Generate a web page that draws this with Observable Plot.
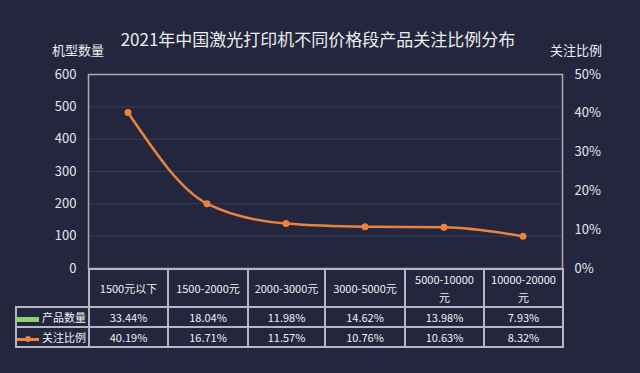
<!DOCTYPE html>
<html>
<head>
<meta charset="utf-8">
<script src="https://cdn.jsdelivr.net/npm/d3@7"></script>
<script src="https://cdn.jsdelivr.net/npm/@observablehq/plot@0.6"></script>
<style>
  html, body { margin: 0; padding: 0; background: #24263d; }
  #wrap { position: relative; width: 640px; height: 373px; background: #24263d; overflow: hidden;
          font-family: "Noto Sans CJK SC", "Noto Sans", sans-serif; color: #ececf0; }
  #title { position: absolute; left: 0; width: 636px; top: 27px; text-align: center; font-size: 17px; line-height: 24px; }
  .ylab { position: absolute; top: 41px; font-size: 13px; line-height: 18px; }
  #chart { position: absolute; left: 0; top: 0; }
  #tbl { position: absolute; left: 15px; top: 268px; border-collapse: collapse; table-layout: fixed;
         font-size: 11px; color: #f0f0f4; }
  #tbl td { border: 2px solid #b4b7c4; text-align: center; padding: 0 5px; line-height: 18px; }
  #tbl tr.head td { height: 35px; }
  #tbl tr.row td { height: 17px; }
  #tbl td.corner { border-top: none; border-left: none; border-bottom-width: 2px; }
  #tbl td.leg { text-align: right; padding: 0 2px 0 0; white-space: nowrap; }
  .sw { display: inline-block; vertical-align: middle; margin-right: 3px; position: relative; }
</style>
</head>
<body>
<div id="wrap">
  <div id="title"></div>
  <div class="ylab" style="left:52px;" id="lab1"></div>
  <div class="ylab" style="left:550px;" id="lab2"></div>
  <div id="chart"></div>
  <table id="tbl"></table>
</div>
<script>
const title = "2021年中国激光打印机不同价格段产品关注比例分布";
const leftAxisTitle = "机型数量";
const rightAxisTitle = "关注比例";
const categories = ["1500元以下", "1500-2000元", "2000-3000元", "3000-5000元", "5000-10000元", "10000-20000元"];
const seriesNames = ["产品数量", "关注比例"];
const productShare = [33.44, 18.04, 11.98, 14.62, 13.98, 7.93];   // 产品数量 (%)
const attentionShare = [40.19, 16.71, 11.57, 10.76, 10.63, 8.32]; // 关注比例 (%)
const leftTicks = [0, 100, 200, 300, 400, 500, 600];
const rightTicks = [0, 10, 20, 30, 40, 50];
const rightTickLabels = ["0%", "10%", "20%", "30%", "40%", "50%"];
const gridTicks = [100, 200, 300, 400, 500];

const green = "#92d36e";
const orange = "#ea843c";

document.getElementById("title").textContent = title;
document.getElementById("lab1").textContent = leftAxisTitle;
document.getElementById("lab2").textContent = rightAxisTitle;

const leftMax = 600, rightMax = 50;
const toLeft = p => p / rightMax * leftMax;

const data = categories.map((c, i) => ({
  cat: c,
  product: productShare[i] / 100,     // bar drawn on count axis (effectively invisible, as in source)
  attention: attentionShare[i]
}));

const chart = Plot.plot({
  width: 640,
  height: 373,
  marginTop: 74,
  marginBottom: 105,
  marginLeft: 88,
  marginRight: 78,
  style: { background: "transparent", color: "#e6e6ec", fontSize: "13px",
           fontFamily: "'Noto Sans CJK SC', 'Noto Sans', sans-serif" },
  x: { type: "band", domain: categories, padding: 0, axis: null },
  y: { domain: [0, leftMax], axis: null },
  marks: [
    Plot.gridY(gridTicks, { stroke: "#3a3d58", strokeOpacity: 1 }),
    Plot.axisY(leftTicks, { anchor: "left", tickSize: 0, tickPadding: 12, label: null, fill: "#e6e6ec" }),
    Plot.axisY(rightTicks.map(toLeft), { anchor: "right", tickSize: 0, tickPadding: 12, label: null,
      tickFormat: (d, i) => rightTickLabels[rightTicks.indexOf(Math.round(d / leftMax * rightMax))], fill: "#e6e6ec" }),
    Plot.frame({ stroke: "#a9acb8", strokeWidth: 1.5 }),
    Plot.barY(data, { x: "cat", y: "product", fill: green, inset: 20 }),
    Plot.lineY(data, { x: "cat", y: d => toLeft(d.attention), stroke: orange, strokeWidth: 2.5, curve: "monotone-x" }),
    Plot.dot(data, { x: "cat", y: d => toLeft(d.attention), r: 3.5, fill: orange })
  ]
});
document.getElementById("chart").appendChild(chart);

// data table beneath the chart
const tbl = document.getElementById("tbl");
const colW = [73, 79, 80, 77, 80, 79, 79];
const cg = document.createElement("colgroup");
colW.forEach(w => { const c = document.createElement("col"); c.style.width = w + "px"; cg.appendChild(c); });
tbl.appendChild(cg);
const head = document.createElement("tr"); head.className = "head";
const corner = document.createElement("td"); corner.className = "corner"; head.appendChild(corner);
categories.forEach(c => { const td = document.createElement("td"); td.textContent = c; head.appendChild(td); });
tbl.appendChild(head);

function swatch(kind) {
  const s = document.createElement("span"); s.className = "sw";
  if (kind === 0) {
    s.style.width = "22px"; s.style.height = "5px"; s.style.background = green;
  } else {
    s.style.width = "22px"; s.style.height = "3px"; s.style.background = orange;
    const d = document.createElement("span");
    d.style.cssText = `position:absolute;left:8px;top:-2px;width:6px;height:6px;border-radius:3px;background:${orange};`;
    s.appendChild(d);
  }
  return s;
}
[productShare, attentionShare].forEach((vals, k) => {
  const tr = document.createElement("tr"); tr.className = "row";
  const lg = document.createElement("td"); lg.className = "leg";
  lg.appendChild(swatch(k));
  lg.appendChild(document.createTextNode(seriesNames[k]));
  tr.appendChild(lg);
  vals.forEach(v => { const td = document.createElement("td"); td.textContent = v.toFixed(2) + "%"; tr.appendChild(td); });
  tbl.appendChild(tr);
});
</script>
</body>
</html>
